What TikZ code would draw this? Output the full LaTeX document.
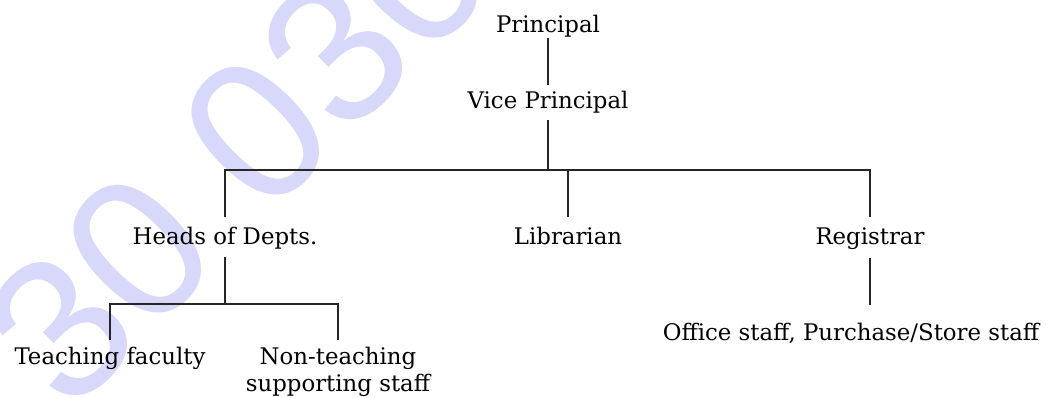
\documentclass[tikz,border=0pt]{standalone}
\usepackage{fontspec}
\setmainfont{DejaVu Serif}
\newfontfamily\wmfont{Liberation Sans}
\usetikzlibrary{positioning}
\definecolor{wmark}{RGB}{216,216,250}

\begin{document}
\begin{tikzpicture}[x=0.02cm, y=-0.02cm,
    post/.style={font=\fontsize{13}{15.6}\selectfont, inner sep=0pt},
    row/.style={post, anchor=base, text height=9.5pt, text depth=3pt},
    link/.style={line width=0.75pt, draw=black!85}
]
    \useasboundingbox (0,0) rectangle (1049,397);
    \clip (0,0) rectangle (1049,397);

    % Watermark
    \node[rotate=45, text=wmark, font=\wmfont\fontsize{114}{114}\selectfont] (wm) at (237,151) {30 030};

    % Posts
    \node[row] (prin) at (548,32) {Principal};
    \node[row] (vp) at (548,108) {Vice Principal};
    \node[row] (hod) at (225,244) {Heads of Depts.};
    \node[row] (lib) at (568,244) {Librarian};
    \node[row] (reg) at (870,244) {Registrar};
    \node[row] (teach) at (110,364) {Teaching faculty};
    \node[post, anchor=north, align=center] (nonteach) at (338,346.6) {Non-teaching\\supporting staff};
    \node[row] (office) at (851,340) {Office staff, Purchase/Store staff};

    % Junctions
    \coordinate (top) at (548,170);
    \coordinate (mid) at (225,304);

    % Lines
    \draw[link, shorten <=0.4pt, shorten >=3.6pt] (prin.south) -- (vp.north);
    \draw[link, shorten <=3.8pt] (vp.south) -- (top);
    \draw[link, shorten <=5.8pt, shorten >=5.8pt] (hod.north) |- (top) -| (reg.north);
    \draw[link, shorten >=5.8pt] (lib.north |- top) -- (lib.north);
    \draw[link, shorten <=4.4pt] (hod.south) -- (mid);
    \draw[link, shorten <=4.1pt, shorten >=3.7pt] (teach.north) |- (mid) -| (nonteach.north);
    \draw[link, shorten <=4.9pt, shorten >=10.4pt] (reg.south) -- (reg.south |- office.north);
\end{tikzpicture}
\end{document}
